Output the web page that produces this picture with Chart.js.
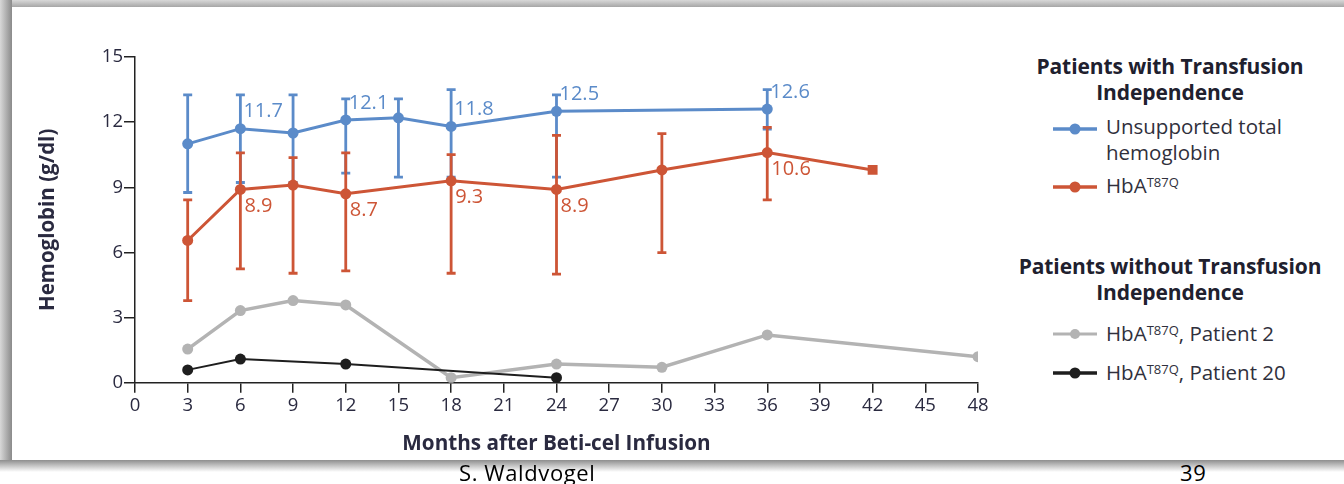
<!DOCTYPE html>
<html>
<head>
<meta charset="utf-8">
<script src="https://cdn.jsdelivr.net/npm/chart.js@4.4.1/dist/chart.umd.min.js"></script>
<style>
  body { margin: 0; width: 1344px; height: 484px; background: #fff; position: relative; overflow: hidden; font-family: "Open Sans", sans-serif; }
  .band-top { position: absolute; left: 0; top: 0; width: 1344px; height: 7px; background: linear-gradient(to bottom, #d8d8d8, #a6a6a6); }
  .band-left { position: absolute; left: 0; top: 0; width: 12px; height: 460px; background: linear-gradient(to right, #d8d8d8, #8a8a8a); }
  .band-bottom { position: absolute; left: 0; top: 460px; width: 1344px; height: 12px; background: linear-gradient(to bottom, #8e8e8e, #ffffff); }
  .panel { position: absolute; left: 12px; top: 7px; width: 1332px; height: 453px; background: #fff; }
  #chart { position: absolute; left: 12px; top: 7px; }
  .lg-title { position: absolute; left: 1010px; width: 320px; text-align: center; font-weight: bold; font-size: 21px; line-height: 26px; color: #20202e; letter-spacing: -0.1px; }
  .lg-item { position: absolute; left: 1106px; font-size: 20.5px; line-height: 26px; color: #30303c; }
  .lg-item sup { font-size: 13px; vertical-align: 0; position: relative; top: -6px; }
  .lg-sym { position: absolute; left: 1052px; }
  .footer { position: absolute; top: 457px; font-family: "Open Sans", sans-serif; font-size: 22px; letter-spacing: 0.6px; color: #000; }
</style>
</head>
<body>
<div class="band-top"></div>
<div class="band-left"></div>
<div class="band-bottom"></div>
<div class="panel"></div>
<canvas id="chart" width="990" height="453"></canvas>

<div class="lg-title" style="top:53px">Patients with Transfusion<br>Independence</div>
<svg class="lg-sym" style="top:119px" width="46" height="20"><line x1="1" y1="10" x2="45" y2="10" stroke="#5b8bc9" stroke-width="3.5"/><circle cx="23" cy="10" r="5.5" fill="#5b8bc9"/></svg>
<div class="lg-item" style="top:113px">Unsupported total<br>hemoglobin</div>
<svg class="lg-sym" style="top:177px" width="46" height="20"><line x1="1" y1="10" x2="45" y2="10" stroke="#cd5536" stroke-width="3.5"/><circle cx="23" cy="10" r="5.5" fill="#cd5536"/></svg>
<div class="lg-item" style="top:172px">HbA<sup>T87Q</sup></div>

<div class="lg-title" style="top:253px">Patients without Transfusion<br>Independence</div>
<svg class="lg-sym" style="top:324px" width="46" height="20"><line x1="1" y1="10" x2="45" y2="10" stroke="#b3b3b3" stroke-width="3"/><circle cx="23" cy="10" r="5" fill="#b3b3b3"/></svg>
<div class="lg-item" style="top:320px">HbA<sup>T87Q</sup>, Patient 2</div>
<svg class="lg-sym" style="top:363px" width="46" height="20"><line x1="1" y1="10" x2="45" y2="10" stroke="#1e1e1e" stroke-width="3.5"/><circle cx="23" cy="10" r="5.5" fill="#1e1e1e"/></svg>
<div class="lg-item" style="top:359px">HbA<sup>T87Q</sup>, Patient 20</div>

<div class="footer" style="left:459px">S. Waldvogel</div>
<div class="footer" style="left:1180px">39</div>

<script>
// months after infusion and hemoglobin (g/dl)
const blueMonths = [3, 6, 9, 12, 15, 18, 24, 36];
const blueValues = [11.0, 11.7, 11.5, 12.1, 12.2, 11.8, 12.5, 12.6];
const blueLow = [8.76, 9.22, 9.22, 9.65, 9.47, 9.47, 9.47, 11.68];
const blueHigh = [13.26, 13.26, 13.26, 13.07, 13.07, 13.5, 13.26, 13.5];

const redMonths = [3, 6, 9, 12, 18, 24, 30, 36, 42];
const redValues = [6.55, 8.9, 9.1, 8.7, 9.3, 8.9, 9.8, 10.6, 9.8];
const redLow = [3.78, 5.24, 5.04, 5.15, 5.04, 5.0, 5.99, 8.42, null];
const redHigh = [8.42, 10.58, 10.37, 10.58, 10.5, 11.39, 11.47, 11.76, null];

const p2Months = [3, 6, 9, 12, 18, 24, 30, 36, 48];
const p2Values = [1.55, 3.32, 3.78, 3.58, 0.23, 0.86, 0.71, 2.2, 1.2];

const p20Months = [3, 6, 12, 24];
const p20Values = [0.59, 1.09, 0.86, 0.23];

// which points carry a printed value
const blueLabelled = [6, 12, 18, 24, 36];
const redLabelled = [6, 12, 18, 24, 36];

const xTicks = { min: 0, max: 48, step: 3 };
const yTicks = { min: 0, max: 15, step: 3 };

const blue = '#5b8bc9';
const red = '#cd5536';
const grey = '#b3b3b3';
const black = '#1e1e1e';
const axisInk = '#2a2a40';
const font = '"Open Sans", sans-serif';

function pts(xs, ys) {
  return xs.map((x, i) => ({ x: x, y: ys[i] }));
}

const errorBars = {
  id: 'errorBars',
  beforeDatasetsDraw(chart) {
    const ctx = chart.ctx;
    const x = chart.scales.x, y = chart.scales.y;
    const sets = [
      { m: blueMonths, lo: blueLow, hi: blueHigh, c: blue },
      { m: redMonths, lo: redLow, hi: redHigh, c: red }
    ];
    ctx.save();
    ctx.lineWidth = 2.8;
    sets.forEach(s => {
      ctx.strokeStyle = s.c;
      s.m.forEach((m, i) => {
        if (s.lo[i] == null) return;
        const px = x.getPixelForValue(m);
        const top = y.getPixelForValue(s.hi[i]);
        const bot = y.getPixelForValue(s.lo[i]);
        ctx.beginPath();
        ctx.moveTo(px, top); ctx.lineTo(px, bot);
        ctx.moveTo(px - 4.5, top); ctx.lineTo(px + 4.5, top);
        ctx.moveTo(px - 4.5, bot); ctx.lineTo(px + 4.5, bot);
        ctx.stroke();
      });
    });
    ctx.restore();
  },
  afterDatasetsDraw(chart) {
    const ctx = chart.ctx;
    const x = chart.scales.x, y = chart.scales.y;
    ctx.save();
    ctx.font = '20px ' + font;
    ctx.textAlign = 'left';
    ctx.textBaseline = 'middle';
    ctx.fillStyle = blue;
    blueLabelled.forEach(m => {
      const v = blueValues[blueMonths.indexOf(m)];
      ctx.fillText(v.toFixed(1), x.getPixelForValue(m) + 3, y.getPixelForValue(v) - 17);
    });
    ctx.fillStyle = red;
    redLabelled.forEach(m => {
      const v = redValues[redMonths.indexOf(m)];
      ctx.fillText(v.toFixed(1), x.getPixelForValue(m) + 4, y.getPixelForValue(v) + 17);
    });
    ctx.restore();
  }
};

const ctx = document.getElementById('chart').getContext('2d');
new Chart(ctx, {
  type: 'line',
  data: {
    datasets: [{
      data: pts(p20Months, p20Values),
      borderColor: black, backgroundColor: black,
      borderWidth: 2, pointRadius: 5.5, pointBorderWidth: 0
    }, {
      data: pts(p2Months, p2Values),
      borderColor: grey, backgroundColor: grey,
      borderWidth: 3.5, pointRadius: 5.5, pointBorderWidth: 0
    }, {
      data: pts(redMonths, redValues),
      borderColor: red, backgroundColor: red,
      borderWidth: 3, pointBorderWidth: 0,
      pointStyle: redMonths.map(m => m === 42 ? 'rect' : 'circle'),
      pointRadius: redMonths.map(m => m === 42 ? 7 : 5.5)
    }, {
      data: pts(blueMonths, blueValues),
      borderColor: blue, backgroundColor: blue,
      borderWidth: 3, pointRadius: 5.5, pointBorderWidth: 0
    }]
  },
  options: {
    responsive: false,
    animation: false,
    devicePixelRatio: 1,
    layout: { padding: { top: 50, right: 24, bottom: 0, left: 24 } },
    plugins: { legend: { display: false }, tooltip: { enabled: false } },
    scales: {
      x: {
        type: 'linear',
        min: xTicks.min, max: xTicks.max,
        afterFit: s => { s.height = 77.3; },
        ticks: { stepSize: xTicks.step, color: axisInk, padding: 2, maxRotation: 0, font: { family: font, size: 18.5 } },
        grid: { drawOnChartArea: false, drawTicks: true, tickLength: 10, color: '#222', lineWidth: 1.5 },
        border: { display: true, color: '#222', width: 1.5 },
        title: { display: true, text: 'Months after Beti-cel Infusion', color: axisInk, padding: { top: 0, bottom: 3 }, font: { family: font, size: 20.7, weight: 'bold' } }
      },
      y: {
        min: yTicks.min, max: yTicks.max,
        afterFit: s => { s.width = 99; },
        ticks: { stepSize: yTicks.step, color: axisInk, padding: 1, font: { family: font, size: 18.5 } },
        grid: { drawOnChartArea: false, drawTicks: true, tickLength: 11, color: '#222', lineWidth: 1.5 },
        border: { display: true, color: '#222', width: 1.5 },
        title: { display: true, text: 'Hemoglobin (g/dl)', color: axisInk, padding: { top: 0, bottom: 0 }, font: { family: font, size: 20.5, weight: 'bold' } }
      }
    }
  },
  plugins: [errorBars]
});
</script>
</body>
</html>
